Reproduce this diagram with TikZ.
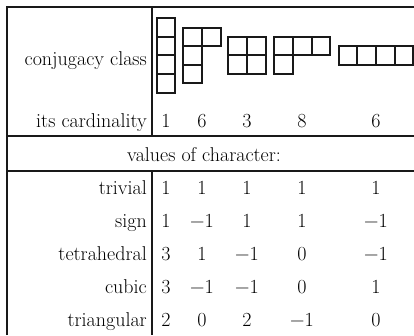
\documentclass[tikz,border=0pt]{standalone}
\tikzset{
  rule/.style={line width=2pt, black!90},
  cellline/.style={line width=2pt, black!90},
  lab/.style={anchor=base east, inner sep=0pt, font=\fontsize{20}{24}\selectfont},
  val/.style={anchor=base, inner sep=0pt, font=\fontsize{20}{24}\selectfont},
}
\begin{document}
\begin{tikzpicture}[x=1pt,y=-1pt]
\useasboundingbox (0,0) rectangle (414,335);
% frame
\draw[rule] (7,335) -- (7,7) -- (414,7);
\draw[rule] (152,7) -- (152,136);
\draw[rule] (7,136) -- (414,136);
\draw[rule] (7,170.5) -- (414,170.5);
\draw[rule] (152,170.5) -- (152,335);
% Young diagrams, cell 18.6
% (1,1,1,1)
\foreach \i in {0,...,3} \draw[cellline] (156.7,18.2+18.6*\i) rectangle ++(18.6,18.6);
% (2,1,1)
\draw[cellline] (183.4,27.5) rectangle ++(18.6,18.6);
\draw[cellline] (202.0,27.5) rectangle ++(18.6,18.6);
\draw[cellline] (183.4,46.1) rectangle ++(18.6,18.6);
\draw[cellline] (183.4,64.7) rectangle ++(18.6,18.6);
% (2,2)
\foreach \i in {0,1} \foreach \j in {0,1} \draw[cellline] (228.4+18.6*\i,36.8+18.6*\j) rectangle ++(18.6,18.6);
% (3,1)
\foreach \i in {0,1,2} \draw[cellline] (274.3+18.6*\i,36.8) rectangle ++(18.6,18.6);
\draw[cellline] (274.3,55.4) rectangle ++(18.6,18.6);
% (4)
\foreach \i in {0,...,3} \draw[cellline] (338.8+18.6*\i,46.1) rectangle ++(18.6,18.6);
% labels
\node[lab] (lcc) at (147,65) {conjugacy class};
\node[lab] (lcard) at (147,127) {its cardinality};
\node[val] (hdr) at (204,161) {values of character:};
\node[lab] (ltriv) at (147,194) {trivial};
\node[lab] (lsign) at (147,227) {sign};
\node[lab] (ltet) at (147,260) {tetrahedral};
\node[lab] (lcub) at (147,293) {cubic};
\node[lab] (ltri) at (147,326) {triangular};
% values
\foreach \y/\a/\b/\c/\d/\e/\n in {127/1/6/3/8/6/card, 194/1/1/1/1/1/triv, 227/1/−1/1/1/−1/sign, 260/3/1/−1/0/−1/tet, 293/3/−1/−1/0/1/cub, 326/2/0/2/−1/0/tri}{
  \node[val] (\n a) at (166,\y) {\a};
  \node[val] (\n b) at (202,\y) {\b};
  \node[val] (\n c) at (247,\y) {\c};
  \node[val] (\n d) at (302,\y) {\d};
  \node[val] (\n e) at (376,\y) {\e};
}
\end{tikzpicture}
\end{document}
